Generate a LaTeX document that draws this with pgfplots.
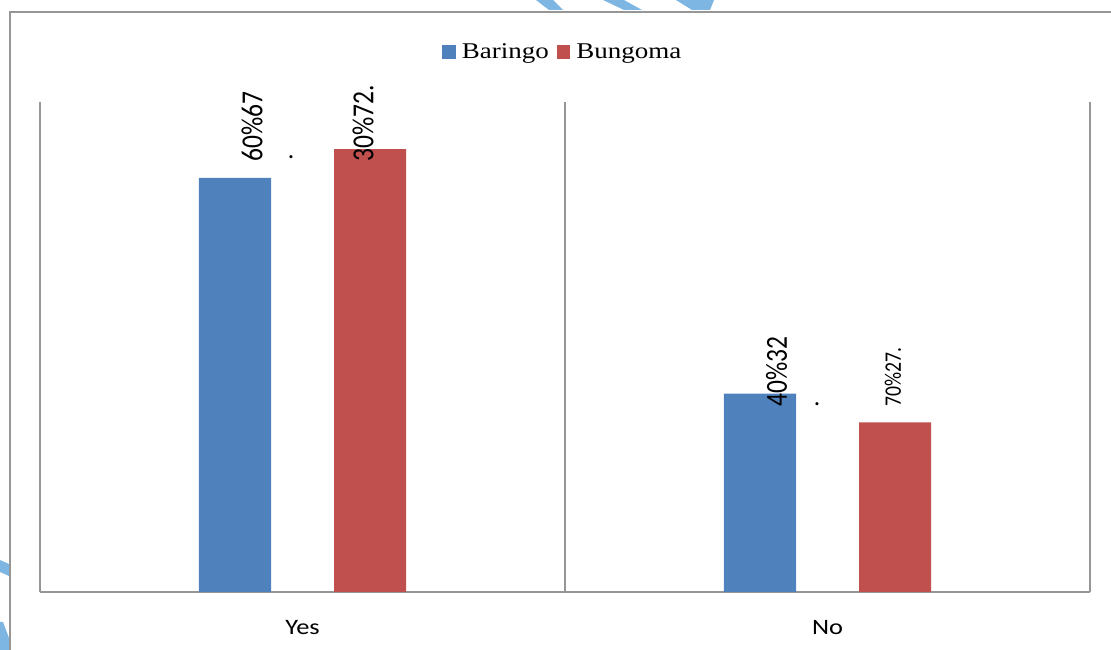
\documentclass[border=0pt]{standalone}
\usepackage{pgfplots}
\pgfplotsset{compat=1.18}
\usepackage{fontspec}
\usepackage{graphicx}
\setmainfont{Liberation Serif}
\newfontfamily\calibri{Carlito}
\definecolor{barblue}{RGB}{79,129,189}
\definecolor{barred}{RGB}{192,80,77}
\definecolor{framegray}{RGB}{150,150,150}
\definecolor{streak}{RGB}{125,182,226}
% text is set slightly wider than tall
\newcommand\wide[1]{\scalebox{1.2}[1]{#1}}
\newcommand\tall[1]{\scalebox{1}[1.2]{#1}}

\begin{document}
\begin{tikzpicture}[x=1pt,y=1pt]
\useasboundingbox (0,0) rectangle (1111,650);
% light blue streaks along the page edge
\fill[streak] (536,650) -- (553,650) -- (563,640) -- (549,640) -- cycle;
\fill[streak] (603,650) -- (624,650) -- (642,640) -- (624,640) -- cycle;
\fill[streak] (676,650) -- (714,650) -- (710,640) -- (692,640) -- cycle;
\fill[streak] (0,90) -- (9,86) -- (9,74) -- (0,78) -- cycle;
\fill[streak] (0,28) -- (3,28) -- (9,12) -- (9,0) -- (0,0) -- cycle;
% chart frame
\draw[framegray, line width=1.6pt] (10,0) -- (10,638) -- (1111,638);
\begin{axis}[
  at={(40pt,58pt)}, anchor=south west,
  scale only axis, width=1050pt, height=490pt,
  xmin=-0.5, xmax=1.5, ymin=0, ymax=80,
  axis y line=none, axis x line*=bottom,
  x axis line style={-, framegray, line width=1.6pt},
  xtick={0,1}, xticklabels={\wide{Yes},\wide{No}},
  minor xtick={-0.5,0.5,1.5},
  xminorgrids, minor grid style={framegray, line width=1.6pt},
  major tick length=0pt, minor tick length=0pt,
  xticklabel style={font=\calibri\fontsize{22}{26}\selectfont, anchor=base, yshift=-43pt},
  ybar, bar width=72pt,
  clip=false,
  legend style={at={(0.498,1.102)}, anchor=center, draw=none, fill=none,
    legend columns=-1, font=\fontsize{22.5}{27}\selectfont,
    /tikz/every odd column/.append style={column sep=4pt},
    /tikz/every even column/.append style={column sep=6pt}},
  legend image code/.code={\fill[#1] (0pt,-6.5pt) rectangle (13.5pt,7pt);},
]
\addplot[fill=barblue, draw=none, bar shift=-67.5pt] coordinates {(0,67.60) (1,32.40)};
\addplot[fill=barred, draw=none, bar shift=67.5pt] coordinates {(0,72.30) (1,27.70)};
\legend{\wide{Baringo},\wide{Bungoma}}
% value labels
\node[rotate=90, anchor=west, inner sep=0pt, font=\calibri\fontsize{25.5}{30}\selectfont] at (axis cs:-0.0962,70.2) {\tall{60\%67}};
\node[inner sep=0pt, font=\calibri\fontsize{25.5}{30}\selectfont] at (axis cs:-0.0219,71.02) {.};
\node[rotate=90, anchor=west, inner sep=0pt, font=\calibri\fontsize{25.5}{30}\selectfont] at (axis cs:0.1152,70.2) {\tall{30\%72.}};
\node[rotate=90, anchor=west, inner sep=0pt, font=\calibri\fontsize{25.5}{30}\selectfont] at (axis cs:0.9029,30.2) {\tall{40\%32}};
\node[inner sep=0pt, font=\calibri\fontsize{25.5}{30}\selectfont] at (axis cs:0.98,30.69) {.};
\node[rotate=90, anchor=west, inner sep=0pt, font=\calibri\fontsize{19.7}{24}\selectfont] at (axis cs:1.1248,30.2) {\tall{70\%27.}};
\end{axis}
\end{tikzpicture}
\end{document}
